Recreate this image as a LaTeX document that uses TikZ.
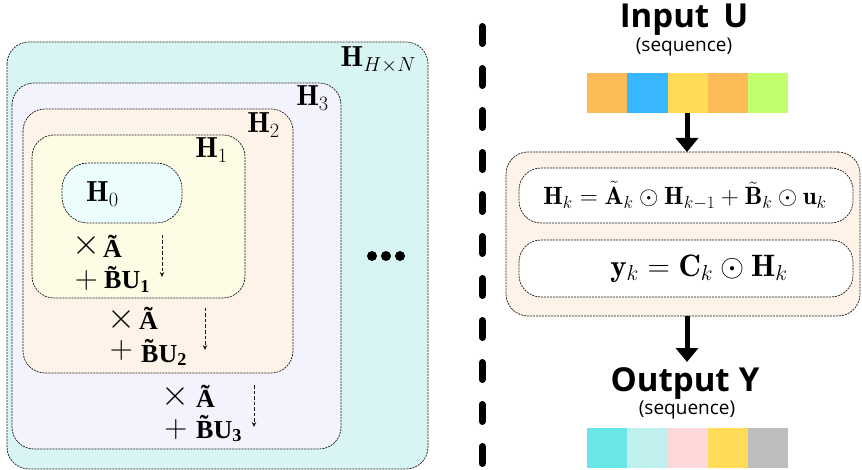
\RequirePackage{fix-cm}
\documentclass[tikz,border=0pt]{standalone}
\usepackage{amsmath}
\usepackage{fontspec}
\newfontfamily\sansb{Open Sans}
\newfontfamily\tms{Liberation Serif}
\usetikzlibrary{arrows.meta}
\definecolor{cHN}{HTML}{D9F5F3}
\definecolor{cH3}{HTML}{F3F3FD}
\definecolor{cH2}{HTML}{FDF3E8}
\definecolor{cH1}{HTML}{FDFDE6}
\definecolor{cH0}{HTML}{EBFDFD}
\definecolor{u1}{HTML}{FDBB58}
\definecolor{u2}{HTML}{38B6FF}
\definecolor{u3}{HTML}{FFDB58}
\definecolor{u5}{HTML}{C1FF6E}
\definecolor{y1}{HTML}{6BE6E8}
\definecolor{y2}{HTML}{C0F0EE}
\definecolor{y3}{HTML}{FFD9D9}
\definecolor{y5}{HTML}{BEBEBE}
\tikzset{
  hbox/.style={draw=black!90, line width=0.7pt, dash pattern=on 2pt off 1pt, rounded corners=22pt},
  hlab/.style={anchor=base east, inner sep=0pt, font=\fontsize{29}{32}\selectfont},
  opx/.style={inner sep=0pt, font=\fontsize{36}{38}\selectfont},
  opp/.style={inner sep=0pt, font=\fontsize{32}{34}\selectfont},
  oplab/.style={anchor=base west, font=\tms\bfseries\fontsize{26}{28}\selectfont, inner sep=0pt},
  darr/.style={draw=black!90, line width=0.8pt, dash pattern=on 3.5pt off 2pt, -{Stealth[length=5pt,width=4.5pt]}},
  bigarr/.style={line width=5pt, -{Triangle[length=14pt,width=22pt]}},
  cell/.style={minimum width=40.2pt, minimum height=40pt, inner sep=0pt, draw=none, anchor=north west},
  ttl/.style={font=\sansb\bfseries\fontsize{33}{35}\selectfont, inner sep=0pt},
  sub/.style={font=\sansb\fontsize{19}{20}\selectfont, inner sep=0pt},
  eqt/.style={inner sep=0pt},
  dot/.style={circle, fill=black, minimum size=10pt, inner sep=0pt}
}
\begin{document}
\begin{tikzpicture}[x=1pt,y=-1pt]
\useasboundingbox (0,0) rectangle (862,470);
% nested boxes
\path[hbox, fill=cHN] (7,42) rectangle (428,469);
\path[hbox, fill=cH3] (12,83) rectangle (341,449);
\path[hbox, fill=cH2] (23,109) rectangle (293,373);
\path[hbox, fill=cH1] (32,135) rectangle (245,298);
\node[hbox, fill=cH0, rounded corners=26pt, minimum width=120pt, minimum height=60pt] (h0) at (122,193) {};
\node[hlab, anchor=base west] (h0l) at (86,202) {$\mathbf{H}_0$};
\node[hlab] (h1l) at (228,158) {$\mathbf{H}_1$};
\node[hlab] (h2l) at (280,133) {$\mathbf{H}_2$};
\node[hlab] (h3l) at (329,106) {$\mathbf{H}_3$};
\node[hlab] (hnl) at (416,67) {$\mathbf{H}_{H\times N}$};
% operations
\node[opx] (x1) at (86.5,245.5) {$\times$};
\node[oplab] (m1) at (103,258) {\~{A}};
\node[opp] (q1) at (86.5,281) {$+$};
\node[oplab] (p1) at (104,289) {\~{B}U\textsubscript{1}};
\node[opx] (x2) at (121.5,320) {$\times$};
\node[oplab] (m2) at (139,330) {\~{A}};
\node[opp] (q2) at (121.5,351) {$+$};
\node[oplab] (p2) at (141,362) {\~{B}U\textsubscript{2}};
\node[opx] (x3) at (175.5,396) {$\times$};
\node[oplab] (m3) at (196,407) {\~{A}};
\node[opp] (q3) at (176,429) {$+$};
\node[oplab] (p3) at (196,438) {\~{B}U\textsubscript{3}};
\coordinate (a1s) at (162,235); \coordinate (a1e) at (162,277);
\coordinate (a2s) at (205,308); \coordinate (a2e) at (205,350);
\coordinate (a3s) at (254,385); \coordinate (a3e) at (254,427);
\draw[darr] (a1s) -- (a1e);
\draw[darr] (a2s) -- (a2e);
\draw[darr] (a3s) -- (a3e);
% ellipsis
\node[dot] (d1) at (372,256) {};
\node[dot] (d2) at (386,256) {};
\node[dot] (d3) at (400,256) {};
% separator
\coordinate (s1) at (482,26.5);
\coordinate (s2) at (482,470);
\draw[line width=7pt, line cap=round, dash pattern=on 17pt off 25pt] (s1) -- (s2);
% right side
\node[ttl] (inp) at (684,20) {Input\hspace{14pt}U};
\node[sub] (inps) at (684,47) {(sequence)};
\node[cell, fill=u1] (c1) at (587,73) {};
\node[cell, fill=u2] (c2) at (627.2,73) {};
\node[cell, fill=u3] (c3) at (667.4,73) {};
\node[cell, fill=u1] (c4) at (707.6,73) {};
\node[cell, fill=u5] (c5) at (747.8,73) {};
\node[hbox, fill=cH2, minimum width=354pt, minimum height=164pt] (blk) at (683,234) {};
\node[hbox, fill=white, minimum width=334pt, minimum height=55pt] (eq1b) at (686,195.5) {};
\node[hbox, fill=white, minimum width=334pt, minimum height=57pt] (eq2b) at (686,268.5) {};
\node[eqt, font=\fontsize{25}{27}\selectfont] (eq1) at (685,195.5)
  {$\mathbf{H}_k=\tilde{\mathbf{A}}_k\odot\mathbf{H}_{k-1}+\tilde{\mathbf{B}}_k\odot\mathbf{u}_k$};
\node[eqt, font=\fontsize{31}{33}\selectfont] (eq2) at (699,268.5)
  {$\mathbf{y}_k=\mathbf{C}_k\odot\mathbf{H}_k$};
\coordinate (ar1s) at (687,113);
\coordinate (ar1) at (687,152);
\draw[bigarr] (ar1s) -- (ar1);
\node[ttl] (outp) at (685,383) {Output\hspace{9pt}Y};
\node[sub] (outs) at (687,410) {(sequence)};
\coordinate (ar2s) at (687,316);
\coordinate (ar2) at (687,362);
\draw[bigarr] (ar2s) -- (ar2);
\node[cell, fill=y1] (o1) at (587,428) {};
\node[cell, fill=y2] (o2) at (627.2,428) {};
\node[cell, fill=y3] (o3) at (667.4,428) {};
\node[cell, fill=u3] (o4) at (707.6,428) {};
\node[cell, fill=y5] (o5) at (747.8,428) {};
\end{tikzpicture}
\end{document}
